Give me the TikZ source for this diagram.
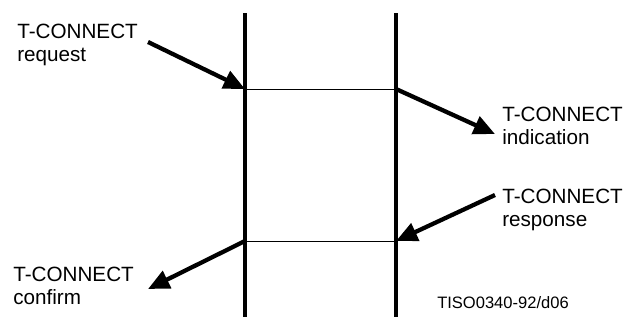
\documentclass[tikz,border=0pt]{standalone}
\usepackage{fontspec}
\setmainfont{Liberation Sans}
\usepackage{tikz}
\usetikzlibrary{arrows.meta}

\begin{document}
\begin{tikzpicture}[x=0.75pt, y=-0.75pt,
    lifeline/.style={line width=2.6pt},
    link/.style={line width=0.6pt},
    prim/.style={line width=3.2pt, -{Triangle[length=16pt, width=14pt]}},
    primlabel/.style={anchor=north west, inner sep=0pt, align=left,
        font=\fontsize{15.5}{17}\selectfont}]

    \useasboundingbox (0,0) rectangle (629,325);

    % ==========================================
    % Lifelines
    % ==========================================
    \coordinate (Ltop) at (245,13);
    \coordinate (Lbot) at (245,317);
    \coordinate (Rtop) at (396,13);
    \coordinate (Rbot) at (396,317);
    \draw[lifeline] (Ltop) -- (Lbot);
    \draw[lifeline] (Rtop) -- (Rbot);

    % ==========================================
    % Transfer through the provider
    % ==========================================
    \coordinate (Lreq) at (245,89);
    \coordinate (Rind) at (396,89);
    \coordinate (Rres) at (396,241);
    \coordinate (Lcnf) at (245,241);
    \draw[link] (Lreq) -- (Rind);
    \draw[link] (Rres) -- (Lcnf);

    % ==========================================
    % Primitives
    % ==========================================
    \node[primlabel] (request) at (17,24) {T-CONNECT\\request};
    \node[primlabel] (indication) at (502,107) {T-CONNECT\\indication};
    \node[primlabel] (response) at (502,189) {T-CONNECT\\response};
    \node[primlabel] (confirm) at (13,267) {T-CONNECT\\confirm};

    \coordinate (reqEnd) at (148,42);
    \coordinate (indEnd) at (495,134);
    \coordinate (resEnd) at (495,195);
    \coordinate (cnfEnd) at (148,289);
    \draw[prim] (reqEnd) -- (Lreq);
    \draw[prim] (Rind) -- (indEnd);
    \draw[prim] (resEnd) -- (Rres);
    \draw[prim] (Lcnf) -- (cnfEnd);

    % figure reference
    \node[anchor=base west, inner sep=0pt, font=\fontsize{12.4}{14}\selectfont]
        (ref) at (437,308) {TISO0340-92/d06};

\end{tikzpicture}
\end{document}
